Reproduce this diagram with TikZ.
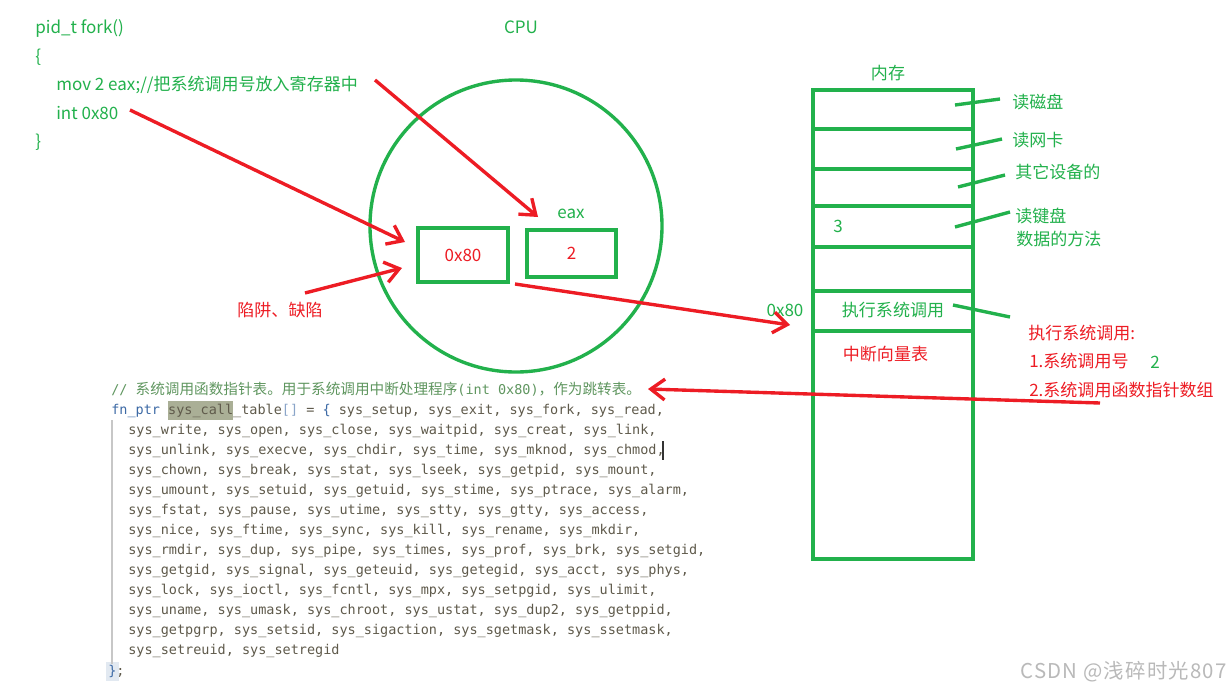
\documentclass[tikz,border=0pt]{standalone}
\usepackage{fontspec}
\setmainfont{Noto Sans CJK SC}
\newfontfamily\cjk{Noto Sans CJK SC}
\newfontfamily\monof{DejaVu Sans Mono}
\usetikzlibrary{arrows.meta}
\definecolor{G}{RGB}{34,177,76}
\definecolor{R}{RGB}{237,28,36}
\definecolor{cmt}{RGB}{95,150,95}
\definecolor{codec}{RGB}{95,90,75}
\definecolor{kw}{RGB}{60,105,165}
\definecolor{hl}{RGB}{170,175,150}
\definecolor{wm}{RGB}{185,185,185}
\newcommand{\lbl}{\fontsize{12.1pt}{14pt}\selectfont}
\newcommand{\cjkc}{\cjk\fontsize{10.4pt}{11pt}\selectfont}
\begin{document}
\begin{tikzpicture}[x=0.025cm,y=-0.025cm,
  gt/.style={text=G,font=\lbl,inner sep=0pt},
  rt/.style={text=R,font=\lbl,inner sep=0pt},
  gline/.style={draw=G,line width=2.4pt},
  rarr/.style={draw=R,line width=2.4pt,-{Straight Barb[length=3.5mm,width=5.2mm]}},
  regbox/.style={draw=G,line width=2.4pt,inner sep=0pt},
  code/.style={text=codec,font=\monof\fontsize{9.6pt}{11pt}\selectfont,inner sep=0pt,anchor=base west},
  lead/.style={draw=G,line width=2.4pt}]
\useasboundingbox (0,0) rectangle (1232,692);
\fill[white] (0,0) rectangle (1232,692);

% ---- source code at the top left
\node[gt,anchor=west] (pid) at (35,28) {pid\_t fork()};
\node[gt,anchor=west] (lb) at (35,57) {\{};
\node[gt,anchor=west] (mov) at (56,85) {mov 2 eax;//把系统调用号放入寄存器中};
\node[gt,anchor=west] (int) at (56,113) {int 0x80};
\node[gt,anchor=west] (rb) at (35,142) {\}};

% ---- CPU
\node[gt] (cpu) at (521,27) {CPU};
\draw[gline] (516,226) circle [radius=146];
\node[regbox,minimum width=2.25cm,minimum height=1.35cm] (reg1) at (463,255) {};
\node[rt] (reg1t) at (463,255) {0x80};
\node[regbox,minimum width=2.225cm,minimum height=1.175cm] (reg2) at (571.5,253.5) {};
\node[rt] (reg2t) at (571.5,253.5) {2};
\node[gt] (eax) at (571,214) {eax};
\node[rt] (trap) at (280,310) {陷阱、缺陷};

% ---- memory
\node[gt] (mem) at (888,73) {内存};
\draw[gline] (813,90) rectangle (973,559);
\foreach \yy in {129,169,206,247,291,331} \draw[gline] (813,\yy) -- (973,\yy);
\node[gt] (three) at (838,226) {3};
\node[gt] (exec) at (893,310) {执行系统调用};
\node[rt] (ivt) at (885.5,354) {中断向量表};
\node[gt] (addr) at (785,310) {0x80};

% ---- labels right of the memory
\node[gt,anchor=west] (l1) at (1012,102) {读磁盘};
\node[gt,anchor=west] (l2) at (1012,140) {读网卡};
\node[gt,anchor=west] (l3) at (1015,172) {其它设备的};
\node[gt,anchor=west] (l4) at (1015,216) {读键盘};
\node[gt,anchor=west] (l4b) at (1016,239) {数据的方法};
\node[rt,anchor=west] (n0) at (1028,333) {执行系统调用:};
\node[rt,anchor=west] (n1) at (1029,361) {1.系统调用号};
\node[gt] (n1v) at (1155,362) {2};
\node[rt,anchor=west] (n2) at (1029,390) {2.系统调用函数指针数组};

\coordinate (a1) at (955,105); \coordinate (b1) at (1000,99);
\coordinate (a2) at (956,149); \coordinate (b2) at (1002,139);
\coordinate (a3) at (958,187); \coordinate (b3) at (1005,175);
\coordinate (a4) at (955,227); \coordinate (b4) at (1010,212);
\coordinate (a5) at (953,305); \coordinate (b5) at (1010,317);
\draw[lead] (a1) -- (b1);
\draw[lead] (a2) -- (b2);
\draw[lead] (a3) -- (b3);
\draw[lead] (a4) -- (b4);
\draw[lead] (a5) -- (b5);

% ---- code screenshot
\fill[hl] (168,401) rectangle (233,420);
\fill[kw!15] (106,662) rectangle (119,681);
\draw[black!22,line width=0.8pt] (112,420) -- (112,664);
\draw[black!80,line width=1pt] (663,441) -- (663,460);
\node[code,anchor=base west,text=cmt] (c1) at (111,394) {// {\cjkc 系统调用函数指针表。用于系统调用中断处理程序}(int 0x80){\cjkc ，作为跳转表。}};
\node[code] (c2) at (111,414.5) {\textcolor{kw}{fn\_ptr} sys\_call\_table\textcolor{kw!60}{[]} = \textcolor{kw}{\{} sys\_setup, sys\_exit, sys\_fork, sys\_read,};
\node[code] (c3) at (128,434.5) {\detokenize{sys_write, sys_open, sys_close, sys_waitpid, sys_creat, sys_link,}};
\node[code] (c4) at (128,454.5) {\detokenize{sys_unlink, sys_execve, sys_chdir, sys_time, sys_mknod, sys_chmod,}};
\node[code] (c5) at (128,474.5) {\detokenize{sys_chown, sys_break, sys_stat, sys_lseek, sys_getpid, sys_mount,}};
\node[code] (c6) at (128,494.5) {\detokenize{sys_umount, sys_setuid, sys_getuid, sys_stime, sys_ptrace, sys_alarm,}};
\node[code] (c7) at (128,514.5) {\detokenize{sys_fstat, sys_pause, sys_utime, sys_stty, sys_gtty, sys_access,}};
\node[code] (c8) at (128,534.5) {\detokenize{sys_nice, sys_ftime, sys_sync, sys_kill, sys_rename, sys_mkdir,}};
\node[code] (c9) at (128,554.5) {\detokenize{sys_rmdir, sys_dup, sys_pipe, sys_times, sys_prof, sys_brk, sys_setgid,}};
\node[code] (c10) at (128,574.5) {\detokenize{sys_getgid, sys_signal, sys_geteuid, sys_getegid, sys_acct, sys_phys,}};
\node[code] (c11) at (128,594.5) {\detokenize{sys_lock, sys_ioctl, sys_fcntl, sys_mpx, sys_setpgid, sys_ulimit,}};
\node[code] (c12) at (128,614.5) {\detokenize{sys_uname, sys_umask, sys_chroot, sys_ustat, sys_dup2, sys_getppid,}};
\node[code] (c13) at (128,634.5) {\detokenize{sys_getpgrp, sys_setsid, sys_sigaction, sys_sgetmask, sys_ssetmask,}};
\node[code] (c14) at (128,654.5) {\detokenize{sys_setreuid, sys_setregid}};
\node[code] (c15) at (108,675) {\textcolor{kw}{\}};};

% ---- watermark
\node[text=wm,font=\fontsize{14.5pt}{16pt}\selectfont\addfontfeature{LetterSpace=6},inner sep=0pt,anchor=east] (wmk) at (1227,672) {CSDN @浅碎时光807};

% ---- red arrows
\coordinate (s1) at (375,80);   \coordinate (t1) at (538,217);
\coordinate (s2) at (130,110);  \coordinate (t2) at (405,242);
\coordinate (s3) at (305,293);  \coordinate (t3) at (402,268);
\coordinate (s4) at (515,284);  \coordinate (t4) at (790,325);
\coordinate (s5) at (1100,403); \coordinate (t5) at (648,389);
\draw[rarr] (s1) -- (t1);
\draw[rarr] (s2) -- (t2);
\draw[rarr] (s3) -- (t3);
\draw[rarr] (s4) -- (t4);
\draw[rarr] (s5) -- (t5);
\end{tikzpicture}
\end{document}
